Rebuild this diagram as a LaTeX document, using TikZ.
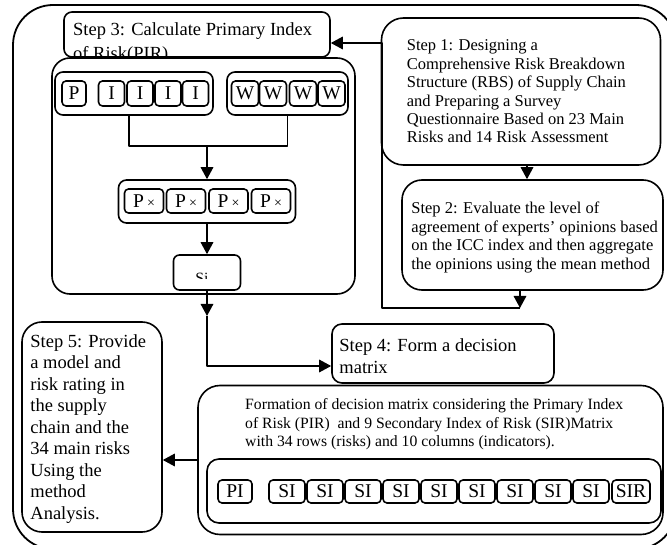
\documentclass[tikz,border=0pt]{standalone}
\usepackage{fontspec}
\setmainfont{Liberation Serif}
\usetikzlibrary{arrows.meta}
\newcommand\fsA{\fontsize{16.5}{18.4}\selectfont}
\newcommand\fsB{\fontsize{18.5}{21.5}\selectfont}
\newcommand\fsC{\fontsize{15.7}{18.5}\selectfont}
\newcommand\fsD{\fontsize{19.5}{20}\selectfont}
\begin{document}
\begin{tikzpicture}[x=1pt,y=-1pt,line join=round,
  box/.style={draw,line width=1.6pt,fill=white,inner sep=0pt,rounded corners=#1},
  box/.default=6pt,
  sbox/.style={box=4pt,font=\fsD},
  txt/.style={inner sep=0pt,align=left,anchor=west},
  ln/.style={line width=1.6pt},
  arr/.style={line width=1.6pt,-{Triangle[length=12pt,width=12.5pt]}}]
\useasboundingbox (0,0) rectangle (667,545);
% outer frame
\draw[line width=1.8pt,rounded corners=40pt] (13,5) rectangle (676,549);

% Step 3 title
\node[box=8pt,minimum width=266,minimum height=45] (s3t) at (197,34.5) {};
\node[anchor=base west,inner sep=0pt,font=\fsB] (s3ta) at (73,36) {Step 3: Calculate Primary Index};
\node[anchor=base west,inner sep=0pt,font=\fsB] (s3tb) at (73,60) {of Risk(PIR)};
% Step 3 body
\node[box=18pt,minimum width=303,minimum height=236] (s3) at (203.5,176) {};
\node[box=8pt,minimum width=158,minimum height=43] (gpi) at (134,93.5) {};
\node[box=8pt,minimum width=121,minimum height=43] (gw) at (287.5,93.5) {};
\node[sbox,minimum width=24,minimum height=25] (p) at (74,93.5) {P};
\foreach \x [count=\i] in {111.5,140,168,195.5}
  \node[sbox,minimum width=26,minimum height=25] (i\i) at (\x,93.5) {I};
\foreach \x [count=\i] in {245,273,303,331.5}
  \node[sbox,minimum width=27,minimum height=25] (w\i) at (\x,93.5) {W};
\coordinate (j) at (207,146);
\draw[ln] ([xshift=-5]gpi.south) |- (j) -| (gw.south);
\node[box=8pt,minimum width=177,minimum height=43] (pxg) at (207,201.5) {};
\node[box=6pt,minimum width=67,minimum height=35] (sbx) at (207,272.5) {};
\draw[arr] (j) -- (j |- pxg.north);
\draw[arr] (pxg.south) -- (sbx.north);
\foreach \x [count=\i] in {144,186,228.5,271}
  \node[sbox,minimum width=39,minimum height=24] (px\i) at (\x,201) {P\,{\fontsize{14}{14}\selectfont ×}};
\begin{scope}
  \clip (173,256) rectangle (238,279);
  \node[font=\fsC,anchor=base,inner sep=0pt] (sbt) at (202,284) {Si};
\end{scope}

% Step 1
\node[box=22pt,minimum width=279,minimum height=147] (s1) at (521,91.5) {};
\node[txt,font=\fsA] (s1t) at ([xshift=26]s1.west) {Step 1: Designing a\\Comprehensive Risk Breakdown\\Structure (RBS) of Supply Chain\\and Preparing a Survey\\Questionnaire Based on 23 Main\\Risks and 14 Risk Assessment};
% Step 2
\node[box=20pt,minimum width=261,minimum height=110] (s2) at (532.5,235) {};
\node[txt,font=\fsA] (s2t) at ([xshift=10,yshift=-2.5]s2.west) {Step 2: Evaluate the level of\\agreement of experts' opinions based\\on the ICC index and then aggregate\\the opinions using the mean method};
\coordinate (c3) at (527,170);
\draw[arr] (s1.south -| c3) -- (s2.north -| c3);
\coordinate (c1) at (520,308);
\coordinate (c2) at (382,308);
\draw[arr] (s2.south -| c1) -- (c1);
\draw[arr] (c1) -- (c2) |- ([yshift=-8.5]s3t.east);

% Step 4
\node[box=10pt,minimum width=222,minimum height=59] (s4) at (443,353.5) {};
\node[txt,font=\fsB] (s4t) at ([xshift=8,yshift=-2.5]s4.west) {Step 4: Form a decision\\matrix};
\coordinate (c4) at (207,316);
\draw[arr] (sbx.south) -- (c4);
\draw[arr] (c4) |- ([yshift=-12.5]s4.west);

% Decision matrix
\node[box=22pt,minimum width=465,minimum height=149] (dm) at (430.5,460) {};
\node[txt,font=\fsC] (dmt) at (245,424.5) {Formation of decision matrix considering the Primary Index\\of Risk (PIR)~~and 9 Secondary Index of Risk (SIR)Matrix\\with 34 rows (risks) and 10 columns (indicators).};
\node[box=12pt,minimum width=454,minimum height=64] (gsi) at (434,491) {};
\node[sbox,minimum width=34,minimum height=23] (pi) at (235,491.5) {PI};
\foreach \k in {0,...,8}
  \node[sbox,minimum width=36,minimum height=23] (si\k) at (287+38*\k,491.5) {SI};
\node[sbox,minimum width=38,minimum height=23] (sir) at (631,491.5) {SIR};

% Step 5
\node[box=20pt,minimum width=140,minimum height=210] (s5) at (92,427) {};
\node[txt,font=\fsB] (s5t) at ([xshift=9,yshift=-2]s5.west) {Step 5: Provide\\a model and\\risk rating in\\the supply\\chain and the\\34 main risks\\Using the\\method\\Analysis.};
\draw[arr] (dm.west) -- (dm.west -| s5.east);
\end{tikzpicture}
\end{document}
